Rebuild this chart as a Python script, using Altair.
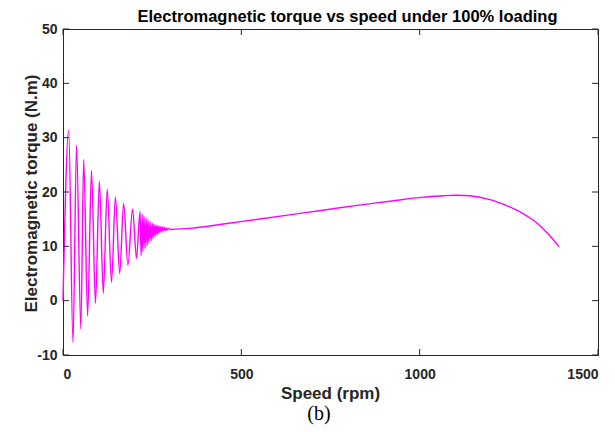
import altair as alt
import pandas as pd

# Start-up oscillation: alternating peaks / troughs (speed rpm, torque N.m)
startup_speed = [0, 16, 28, 38, 50, 58, 69, 80, 91, 102, 113, 124, 136, 147, 159, 170, 182, 195, 206]
startup_torque = [0, 31.4, -7.7, 28.6, -5.2, 26.0, -2.8, 23.9, -0.5, 22.0, 1.4, 20.5, 3.4, 19.1, 5.0, 17.9, 6.5, 16.9, 7.8]

# Fast decaying ripple
ripple_speed = [216, 219, 222, 224, 227, 230, 233, 236, 238, 241, 244, 247, 250, 252, 255,
                258, 261, 264, 266, 269, 272, 275, 278, 280, 283, 286, 289, 292, 295]
ripple_torque = [16.4, 8.3, 15.9, 9.0, 15.5, 9.6, 15.2, 10.1, 14.9, 10.6, 14.6, 11.0, 14.3, 11.4, 14.1,
                 11.8, 13.9, 12.1, 13.8, 12.4, 13.7, 12.6, 13.6, 12.8, 13.5, 12.9, 13.4, 13.0, 13.3]

# Smooth acceleration part
steady_speed = [300, 355, 450, 542, 635, 729, 820, 916, 1010, 1066, 1100, 1140, 1197, 1240, 1271, 1300, 1327, 1360, 1391]
steady_torque = [13.1, 13.3, 14.1, 14.95, 15.8, 16.65, 17.5, 18.3, 19.05, 19.3, 19.4, 19.3, 18.6, 17.6, 16.7, 15.6, 14.4, 12.3, 9.9]

x_ticks = [0, 500, 1000, 1500]
y_ticks = [-10, 0, 10, 20, 30, 40, 50]
caption = ["(b)"]

osc = pd.DataFrame({
    "speed": startup_speed + ripple_speed + steady_speed[:1],
    "torque": startup_torque + ripple_torque + steady_torque[:1],
})
steady = pd.DataFrame({"speed": steady_speed, "torque": steady_torque})
xt = pd.DataFrame({"speed": x_ticks})
yt = pd.DataFrame({"torque": y_ticks})

W, H = 535, 326
INK = "#262626"
MAG = "#FF00FF"
xs = alt.Scale(domain=[0, 1500], nice=False, zero=False)
ys = alt.Scale(domain=[-10, 50], nice=False, zero=False)
xa = alt.Axis(values=x_ticks, title="Speed (rpm)", labelPadding=12, labelExpr="'' + datum.value",
              titleX=267, titleY=38, titleAlign="center", titleBaseline="middle")
ya = alt.Axis(values=y_ticks, title="Electromagnetic torque (N.m)", labelPadding=6,
              labelExpr="'' + datum.value",
              titleX=-32, titleY=164, titleAngle=270, titleAlign="center", titleBaseline="middle")

X = alt.X("speed:Q", scale=xs, axis=xa)
Y = alt.Y("torque:Q", scale=ys, axis=ya)

line_osc = alt.Chart(osc).mark_line(color=MAG, strokeWidth=1.4, interpolate="monotone").encode(x=X, y=Y)
line_steady = alt.Chart(steady).mark_line(color=MAG, strokeWidth=1.4, interpolate="catmull-rom").encode(x=X, y=Y)

tick_len = 6
bottom_ticks = alt.Chart(xt).mark_rule(color=INK).encode(
    x=X, y=alt.value(H), y2=alt.value(H - tick_len))
top_ticks = alt.Chart(xt).mark_rule(color=INK).encode(
    x=X, y=alt.value(0), y2=alt.value(tick_len))
left_ticks = alt.Chart(yt).mark_rule(color=INK).encode(
    y=Y, x=alt.value(0), x2=alt.value(tick_len))
right_ticks = alt.Chart(yt).mark_rule(color=INK).encode(
    y=Y, x=alt.value(W), x2=alt.value(W - tick_len))

cap = alt.Chart(pd.DataFrame({"t": caption})).mark_text(
    font="Liberation Serif", fontSize=20, color="black", align="center", baseline="middle"
).encode(x=alt.value(256), y=alt.value(385), text="t:N")

chart = alt.layer(line_osc, line_steady, bottom_ticks, top_ticks, left_ticks, right_ticks, cap).properties(
    width=W, height=H,
    title=alt.TitleParams("Electromagnetic torque vs speed under 100% loading",
                          font="Liberation Sans", fontSize=16.5, fontWeight="bold",
                          color="black", anchor="middle", dx=17, dy=7, offset=4),
    autosize=alt.AutoSizeParams(type="none"),
    padding={"left": 63, "top": 29, "right": 17, "bottom": 77},
).configure_axis(
    domainColor=INK, domainWidth=1, ticks=False, tickSize=0, grid=False,
    labelFont="Liberation Sans", labelFontSize=14, labelFontWeight="bold", labelColor=INK,
    titleFont="Liberation Sans", titleFontSize=17, titleFontWeight="bold", titleColor=INK,
).configure_view(stroke=INK, strokeWidth=1)

chart.save("out.html", embed_options={"renderer": "svg", "actions": False})
